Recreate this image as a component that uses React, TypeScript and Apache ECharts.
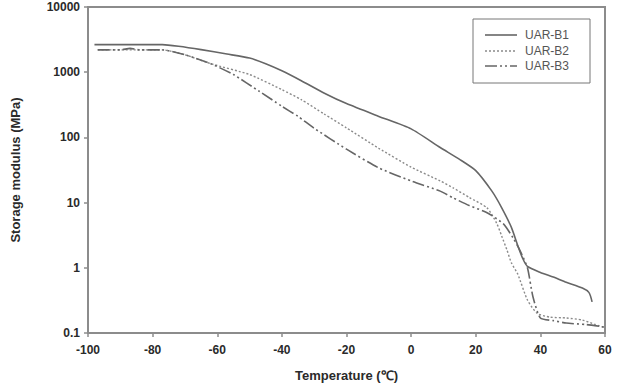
import React, { useEffect, useRef } from "react";
import * as echarts from "echarts";

const seriesNames = ["UAR-B1", "UAR-B2", "UAR-B3"];

const b1Temp = [-98, -77, -72, -65, -57, -50, -45, -40, -34, -27, -20, -10, 0, 9, 15, 20, 25, 28, 31, 33, 34.5, 36, 40, 44, 48, 53, 55, 56];
const b1Mod = [2650, 2650, 2500, 2220, 1900, 1650, 1350, 1050, 740, 480, 330, 210, 135, 70, 46, 31, 15, 8.4, 4.2, 2.2, 1.4, 1.05, 0.85, 0.72, 0.6, 0.49, 0.42, 0.3];

const b2Temp = [-97, -77, -70, -62, -50, -40, -34, -27, -20, -10, 0, 9, 13, 18, 23.5, 26.5, 28, 29.7, 31, 33, 36, 39, 43, 48, 53, 57, 60];
const b2Mod = [2200, 2200, 1850, 1350, 920, 540, 380, 230, 140, 68, 35, 21.5, 16.8, 12, 8.3, 4.8, 3.1, 1.85, 1.2, 0.8, 0.32, 0.2, 0.175, 0.17, 0.158, 0.135, 0.12];

const b3Temp = [-97, -90, -87, -84, -77, -70, -62, -55, -47, -40, -35, -30, -20, -10, 0, 9, 13, 18, 23.5, 28.5, 31.5, 33.7, 36, 37.7, 40, 44, 48, 54, 60];
const b3Mod = [2200, 2200, 2320, 2200, 2200, 1850, 1350, 920, 510, 300, 210, 138, 66, 34, 21.5, 15, 11.8, 9.0, 7.0, 4.75, 2.9, 1.84, 1.0, 0.36, 0.17, 0.155, 0.142, 0.135, 0.123];

const xTicks = { min: -100, max: 60, interval: 20 };
const yTicks = { min: 0.1, max: 10000 };

const lineColors = ["#666666", "#8a8a8a", "#666666"];
const lineDashes: (number[] | "solid")[] = ["solid", [2, 2], [12, 3, 2, 3, 2, 3]];
const lineWidths = [1.6, 1.4, 1.6];

const pair = (t: number[], v: number[]) => t.map((x, i) => [x, v[i]]);

export default function App() {
  const ref = useRef<HTMLDivElement>(null);
  useEffect(() => {
    if (!ref.current) return;
    const chart = echarts.init(ref.current, null, { renderer: "svg" });
    const axisColor = "#8c8c8c";
    const font = "Liberation Sans, Arial, sans-serif";
    const labelStyle = { color: "#2a2a2a", fontFamily: font, fontWeight: "bold" as const, fontSize: 12 };
    const data = [pair(b1Temp, b1Mod), pair(b2Temp, b2Mod), pair(b3Temp, b3Mod)];

    const legendLeft = 473;
    const legendTop = 19;
    const legendRows = [35, 51, 66];
    const legendGraphic: any[] = [
      {
        type: "rect",
        shape: { x: legendLeft, y: legendTop, width: 117, height: 64 },
        style: { fill: "#fff", stroke: "#777", lineWidth: 1 },
        z: 100,
      },
    ];
    seriesNames.forEach((name, i) => {
      legendGraphic.push({
        type: "line",
        shape: { x1: 485, y1: legendRows[i], x2: 517, y2: legendRows[i] },
        style: {
          stroke: lineColors[i],
          lineWidth: lineWidths[i],
          lineDash: lineDashes[i] === "solid" ? null : lineDashes[i],
        },
        z: 101,
      });
      legendGraphic.push({
        type: "text",
        x: 525,
        y: legendRows[i],
        style: { text: name, fill: "#555", font: `12px ${font}`, textVerticalAlign: "middle", textBaseline: "middle" },
        z: 101,
      });
    });

    chart.setOption({
      animation: false,
      backgroundColor: "#ffffff",
      grid: {
        left: 88, right: 12, top: 7, bottom: 50,
        show: true, borderColor: axisColor, borderWidth: 2,
        containLabel: false,
        outerBoundsMode: "none",
      },
      graphic: legendGraphic,
      xAxis: {
        type: "value",
        min: xTicks.min,
        max: xTicks.max,
        interval: xTicks.interval,
        name: "Temperature (℃)",
        nameLocation: "middle",
        nameGap: 36,
        nameTextStyle: { ...labelStyle, fontSize: 13 },
        axisLine: { show: true, onZero: false, lineStyle: { color: axisColor, width: 2 } },
        axisTick: { show: true, length: 4, lineStyle: { color: axisColor, width: 1.5 } },
        axisLabel: { ...labelStyle, margin: 11 },
        splitLine: { show: false },
      },
      yAxis: {
        type: "log",
        logBase: 10,
        min: yTicks.min,
        max: yTicks.max,
        name: "Storage modulus (MPa)",
        nameLocation: "middle",
        nameGap: 66,
        nameTextStyle: { ...labelStyle, fontSize: 13 },
        axisLine: { show: true, onZero: false, lineStyle: { color: axisColor, width: 2 } },
        axisTick: { show: true, length: 4, lineStyle: { color: axisColor, width: 1.5 } },
        axisLabel: { ...labelStyle, margin: 8, formatter: (v: number) => String(Number(v.toPrecision(3))) },
        splitLine: { show: false },
      },
      series: seriesNames.map((name, i) => ({
        name,
        type: "line",
        data: data[i],
        symbol: "none",
        smooth: 0.2,
        lineStyle: { color: lineColors[i], width: lineWidths[i], type: lineDashes[i] },
        itemStyle: { color: lineColors[i] },
      })),
    });
    return () => chart.dispose();
  }, []);
  return <div ref={ref} style={{ width: 617, height: 383, position: "absolute", left: 0, top: 0 }} />;
}
